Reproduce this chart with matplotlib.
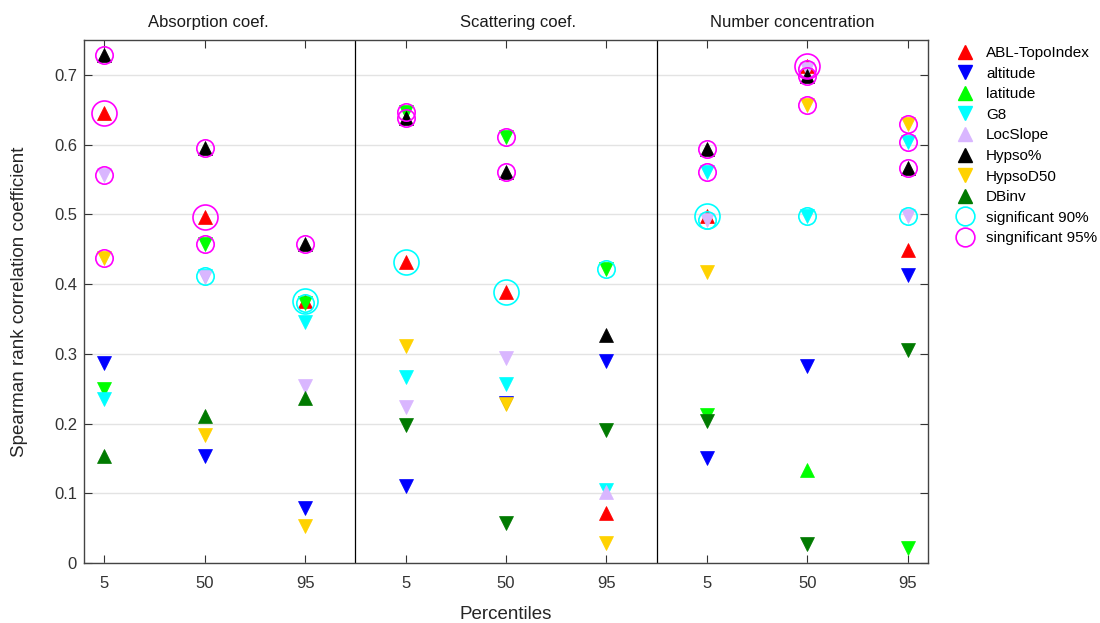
import matplotlib
matplotlib.use("Agg")
import matplotlib.pyplot as plt
from matplotlib.lines import Line2D
import matplotlib.transforms as mtransforms

plt.rcParams['font.family'] = ['Liberation Sans', 'DejaVu Sans']

# 3 variables x 3 percentiles -> 9 columns
panels = ["Absorption coef.", "Scattering coef.", "Number concentration"]
percentiles = ["5", "50", "95"]
xpos = list(range(1, 10))

names = ["ABL-TopoIndex", "altitude", "latitude", "G8", "LocSlope",
         "Hypso%", "HypsoD50", "DBinv"]
colors = ["#ff0000", "#0000ff", "#00ff00", "#00ffff", "#d9b6ff",
          "#000000", "#ffd200", "#007a00"]

# |rho| per column
abl = [0.646, 0.496, 0.376, 0.431, 0.388, 0.072, 0.497, 0.713, 0.449]
altitude = [0.287, 0.154, 0.079, 0.110, 0.229, 0.290, 0.150, 0.282, 0.413]
latitude = [0.250, 0.457, 0.373, 0.647, 0.611, 0.421, 0.212, 0.133, 0.022]
g8 = [0.235, 0.411, 0.345, 0.267, 0.257, 0.104, 0.560, 0.498, 0.604]
locslope = [0.557, 0.410, 0.254, 0.223, 0.294, 0.102, 0.492, 0.708, 0.497]
hypso = [0.729, 0.595, 0.457, 0.638, 0.561, 0.327, 0.593, 0.698, 0.566]
hypsod50 = [0.437, 0.184, 0.053, 0.311, 0.228, 0.029, 0.417, 0.657, 0.629]
dbinv = [0.154, 0.211, 0.237, 0.198, 0.058, 0.191, 0.203, 0.027, 0.305]

# sign of rho: ^ positive, v negative
abl_m = ['^'] * 9
altitude_m = ['v'] * 9
latitude_m = ['v', 'v', 'v', 'v', 'v', 'v', 'v', '^', 'v']
g8_m = ['v'] * 9
locslope_m = ['v', 'v', 'v', 'v', 'v', '^', 'v', 'v', 'v']
hypso_m = ['^'] * 9
hypsod50_m = ['v'] * 9
dbinv_m = ['^', '^', '^', 'v', 'v', 'v', 'v', 'v', 'v']

# significance level (0 = not significant)
abl_s = [95, 95, 90, 90, 90, 0, 90, 95, 0]
altitude_s = [0] * 9
latitude_s = [0, 95, 90, 95, 95, 90, 0, 0, 0]
g8_s = [0, 90, 0, 0, 0, 0, 95, 90, 95]
locslope_s = [95, 0, 0, 0, 0, 0, 90, 95, 90]
hypso_s = [95, 95, 95, 95, 95, 0, 95, 95, 95]
hypsod50_s = [95, 0, 0, 0, 0, 0, 0, 95, 95]
dbinv_s = [0] * 9

vals = [abl, altitude, latitude, g8, locslope, hypso, hypsod50, dbinv]
marks = [abl_m, altitude_m, latitude_m, g8_m, locslope_m, hypso_m, hypsod50_m, dbinv_m]
sigs = [abl_s, altitude_s, latitude_s, g8_s, locslope_s, hypso_s, hypsod50_s, dbinv_s]
legend_marks = ['^', 'v', '^', 'v', '^', '^', 'v', '^']
sig_colors = {90: "#00ffff", 95: "#ff00ff"}

tri_ms = 10
circ_ms = 12.5
big_circ_ms = 18

fig = plt.figure(figsize=(11, 6.23), dpi=100)
ax = fig.add_axes([0.0764, 0.0963, 0.7672, 0.8395])

for k in range(len(names)):
    for i in range(9):
        ax.plot(xpos[i], vals[k][i], marker=marks[k][i], ms=tri_ms, ls='none',
                color=colors[k], mec=colors[k], mew=0.5, zorder=3)

for k in range(len(names)):
    ms = big_circ_ms if k == 0 else circ_ms
    for i in range(9):
        if sigs[k][i]:
            ax.plot(xpos[i], vals[k][i], marker='o', ms=ms, ls='none',
                    mfc='none', mec=sig_colors[sigs[k][i]], mew=1.2, zorder=4)

# panel separators
for xs in [3.5, 6.5]:
    ax.axvline(xs, color='black', lw=0.9, zorder=2)

ax.set_xlim(0.8, 9.2)
ax.set_ylim(0, 0.75)
ax.set_xticks(xpos)
ax.set_xticklabels(percentiles * 3)
ax.set_yticks([0, 0.1, 0.2, 0.3, 0.4, 0.5, 0.6, 0.7])
ax.set_yticklabels(['0', '0.1', '0.2', '0.3', '0.4', '0.5', '0.6', '0.7'])
ax.yaxis.grid(True, color='#e3e3e3', lw=1.0, zorder=0)
ax.set_axisbelow(True)

ax.tick_params(direction='in', top=True, right=True, length=5.5, width=0.8,
               colors='#333333', labelsize=12)
ax.tick_params(axis='x', pad=9)
ax.tick_params(axis='y', pad=5)
for sp in ax.spines.values():
    sp.set_color('#444444')
    sp.set_linewidth(1.0)

ax.set_xlabel("Percentiles", fontsize=13.5, color='#262626')
ax.xaxis.set_label_coords(0.5, -0.082)
ax.set_ylabel("Spearman rank correlation coefficient", fontsize=13.5, color='#262626')
ax.yaxis.set_label_coords(-0.066, 0.5)

trans = mtransforms.blended_transform_factory(ax.transData, ax.transAxes)
for title, tx in zip(panels, [2.04, 5.12, 7.85]):
    ax.text(tx, 1.034, title, transform=trans, ha='center', va='center',
            fontsize=12, color='#1a1a1a')

handles = []
for k in range(len(names)):
    handles.append(Line2D([], [], marker=legend_marks[k], ms=tri_ms, ls='none',
                          color=colors[k], mec=colors[k], label=names[k]))
handles.append(Line2D([], [], marker='o', ms=circ_ms + 1, ls='none', mfc='none',
                      mec=sig_colors[90], mew=1.2, label="significant 90%"))
handles.append(Line2D([], [], marker='o', ms=circ_ms + 1, ls='none', mfc='none',
                      mec=sig_colors[95], mew=1.2, label="singnificant 95%"))

fig.legend(handles=handles, loc='upper left', bbox_to_anchor=(0.870, 0.926),
           frameon=False, fontsize=11, handlelength=1.0, handletextpad=0.9,
           labelspacing=0.43, borderpad=0, borderaxespad=0)

fig.savefig("out.png", dpi=100)
